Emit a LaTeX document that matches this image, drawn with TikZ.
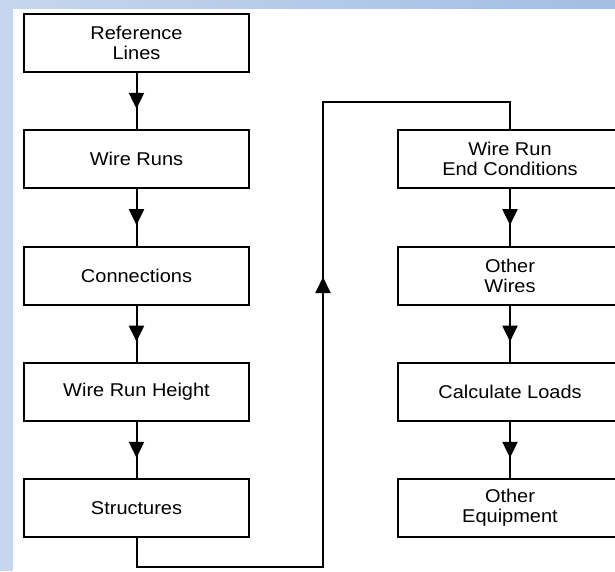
\documentclass[tikz,border=0pt]{standalone}
\usepackage{fontspec}
\setmainfont{Liberation Sans}[FakeStretch=1.08]
\usetikzlibrary{calc}
\usetikzlibrary{arrows.meta}
\usetikzlibrary{decorations.markings}
\definecolor{stripblue}{HTML}{C6D6ED}
\definecolor{stripdark}{HTML}{A2BEE3}

\begin{document}
\begin{tikzpicture}[x=1pt,y=-1pt]
	\tikzstyle{every node}=[font=\fontsize{18.5}{20}\selectfont]
	\tikzstyle{stepbox}=[draw, line width=2pt, minimum width=225pt, minimum height=58pt, align=center, inner sep=0pt]
	\tikzstyle{flow}=[line width=2pt, postaction={decorate}, decoration={markings, mark=at position 0.64 with {\arrow{Triangle[length=16pt,width=15pt]}}}]
	\tikzstyle{loop}=[line width=2pt, postaction={decorate}, decoration={markings, mark=at position 505.5pt with {\arrow{Triangle[length=16pt,width=15pt]}}}]
	
	\useasboundingbox (0,0) rectangle (615,571);
	\clip (0,0) rectangle (615,571);
	\fill [white] (0,0) rectangle (615,571);
	\fill [stripblue] (0,0) rectangle (13,571);
	\shade [left color=stripblue, right color=stripdark] (0,0) rectangle (615,8);
	
	% left column
	\node [stepbox] (reflines) at (136.5,43) {Reference\\Lines};
	\node [stepbox] (wireruns) at (136.5,159) {Wire Runs};
	\node [stepbox] (connect) at (136.5,275.5) {Connections};
	\node [stepbox] (height) at (136.5,392) {Wire Run Height};
	\node [stepbox] (struct) at (136.5,508) {Structures};
	
	% right column
	\node [stepbox] (endcond) at (510,159) {Wire Run\\End Conditions};
	\node [stepbox] (otherwires) at (510,275.5) {Other\\Wires};
	\node [stepbox] (loads) at (510,392) {Calculate Loads};
	\node [stepbox] (equip) at (510,508) {Other\\Equipment};
	
	\draw [flow] (reflines) -- (wireruns);
	\draw [flow] (wireruns) -- (connect);
	\draw [flow] (connect) -- (height);
	\draw [flow] (height) -- (struct);
	
	\draw [flow] (endcond) -- (otherwires);
	\draw [flow] (otherwires) -- (loads);
	\draw [flow] (loads) -- (equip);
	
	\coordinate (low) at (323,567);
	\coordinate (high) at (323,102);
	\draw [loop] (struct.south) |- (low) -- (high) -| (endcond.north);
	
\end{tikzpicture}
\end{document}
